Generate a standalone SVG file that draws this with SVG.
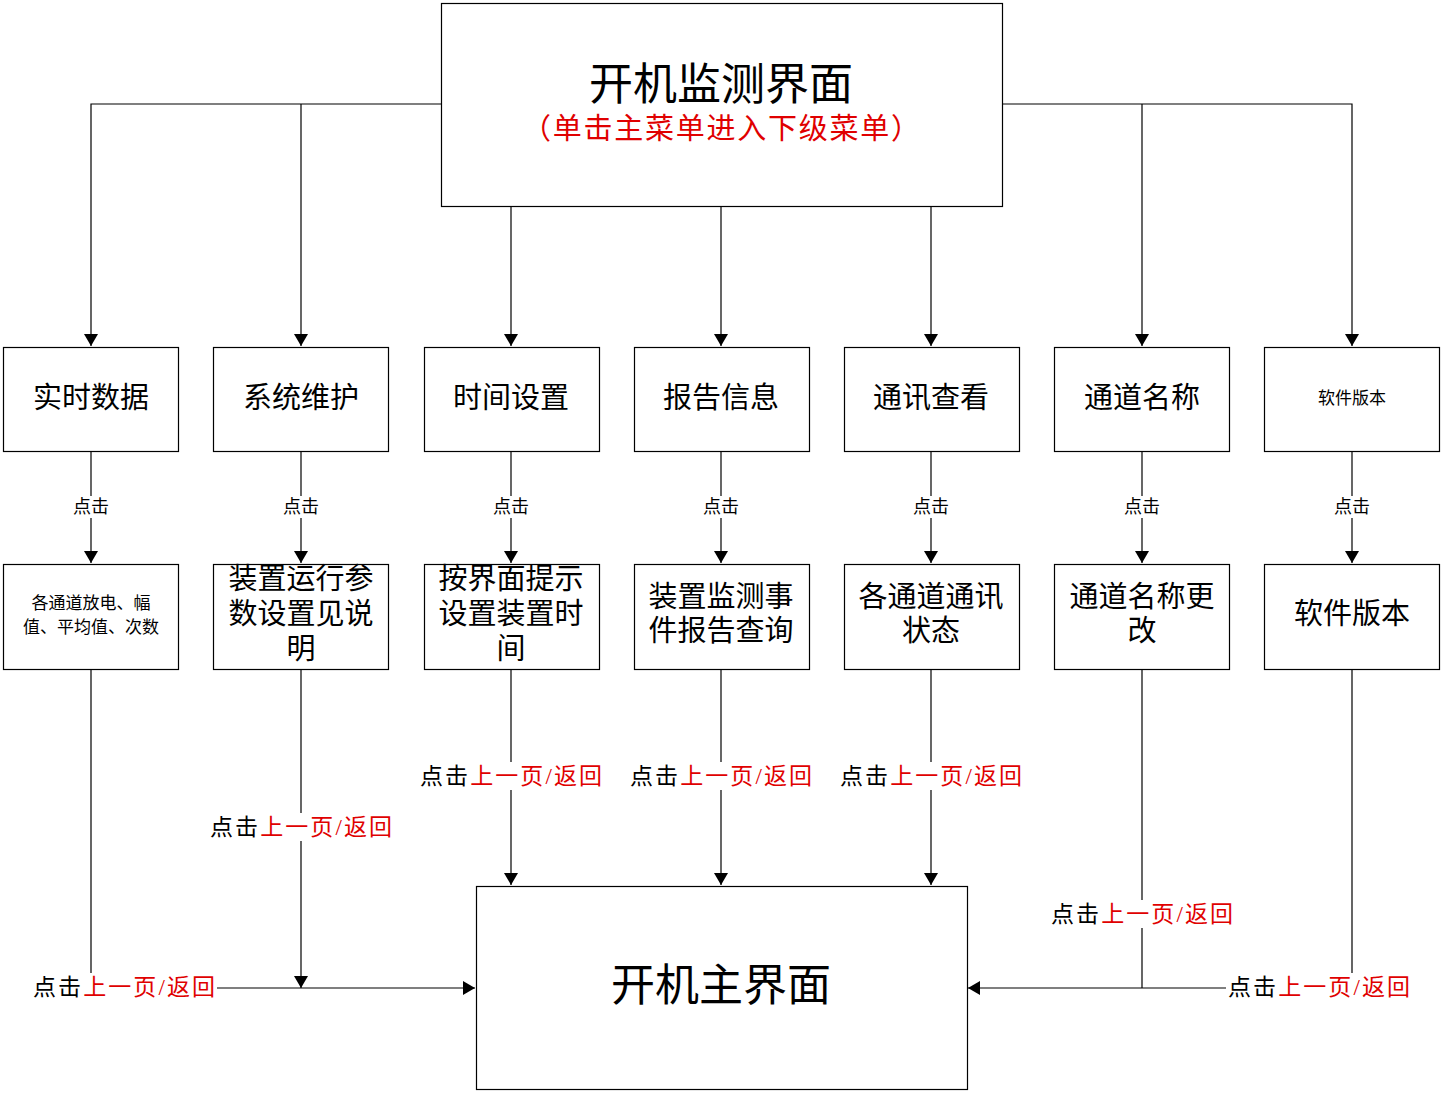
<svg xmlns="http://www.w3.org/2000/svg" width="1445" height="1094" viewBox="0 0 1445 1094">
<defs>
<style>
text{font-family:"Liberation Serif","Noto Sans CJK SC",serif;fill:#000;text-anchor:middle;dominant-baseline:central}
.box{fill:#fff;stroke:#000;stroke-width:1.2}
.ln{fill:none;stroke:#000;stroke-width:1.2}
.r{fill:#e00000}
.t28{font-size:29px}
.lab{font-size:23px}
.small{font-size:18px}
.bg{fill:#fff;stroke:none}
</style>
<marker id="a" markerWidth="12" markerHeight="14" refX="12" refY="7" orient="auto" markerUnits="userSpaceOnUse">
<path d="M0,0 L12,7 L0,14 Z" fill="#000"/>
</marker>
</defs>
<rect width="1445" height="1094" fill="#fff"/>

<g id="connectors">
<path class="ln" d="M441,104 H91 V346" marker-end="url(#a)"/>
<path class="ln" d="M301,104 V346" marker-end="url(#a)"/>
<path class="ln" d="M1002,104 H1352 V346" marker-end="url(#a)"/>
<path class="ln" d="M1142,104 V346" marker-end="url(#a)"/>
<path class="ln" d="M511,206 V346" marker-end="url(#a)"/>
<path class="ln" d="M721,206 V346" marker-end="url(#a)"/>
<path class="ln" d="M931,206 V346" marker-end="url(#a)"/>

<path class="ln" d="M91,451 V563" marker-end="url(#a)"/>
<path class="ln" d="M301,451 V563" marker-end="url(#a)"/>
<path class="ln" d="M511,451 V563" marker-end="url(#a)"/>
<path class="ln" d="M721,451 V563" marker-end="url(#a)"/>
<path class="ln" d="M931,451 V563" marker-end="url(#a)"/>
<path class="ln" d="M1142,451 V563" marker-end="url(#a)"/>
<path class="ln" d="M1352,451 V563" marker-end="url(#a)"/>

<path class="ln" d="M511,669 V885" marker-end="url(#a)"/>
<path class="ln" d="M721,669 V885" marker-end="url(#a)"/>
<path class="ln" d="M931,669 V885" marker-end="url(#a)"/>
<path class="ln" d="M301,669 V988" marker-end="url(#a)"/>
<path class="ln" d="M91,669 V988 H475" marker-end="url(#a)"/>
<path class="ln" d="M1142,669 V988"/>
<path class="ln" d="M1352,669 V988 H968" marker-end="url(#a)"/>

<g class="small">
<rect class="bg" x="70" y="496" width="42" height="22"/><text x="91" y="507">点击</text>
<rect class="bg" x="280" y="496" width="42" height="22"/><text x="301" y="507">点击</text>
<rect class="bg" x="490" y="496" width="42" height="22"/><text x="511" y="507">点击</text>
<rect class="bg" x="700" y="496" width="42" height="22"/><text x="721" y="507">点击</text>
<rect class="bg" x="910" y="496" width="42" height="22"/><text x="931" y="507">点击</text>
<rect class="bg" x="1121" y="496" width="42" height="22"/><text x="1142" y="507">点击</text>
<rect class="bg" x="1331" y="496" width="42" height="22"/><text x="1352" y="507">点击</text>
</g>

<g class="lab">
<rect class="bg" x="418" y="762" width="186" height="28"/>
<text x="511" y="776" textLength="182" lengthAdjust="spacing">点击<tspan class="r">上一页/返回</tspan></text>
<rect class="bg" x="628" y="762" width="186" height="28"/>
<text x="721" y="776" textLength="182" lengthAdjust="spacing">点击<tspan class="r">上一页/返回</tspan></text>
<rect class="bg" x="838" y="762" width="186" height="28"/>
<text x="931" y="776" textLength="182" lengthAdjust="spacing">点击<tspan class="r">上一页/返回</tspan></text>
<rect class="bg" x="208" y="813" width="186" height="28"/>
<text x="301" y="827" textLength="182" lengthAdjust="spacing">点击<tspan class="r">上一页/返回</tspan></text>
<rect class="bg" x="1049" y="900" width="186" height="28"/>
<text x="1142" y="914" textLength="182" lengthAdjust="spacing">点击<tspan class="r">上一页/返回</tspan></text>
<rect class="bg" x="30" y="973" width="187" height="28"/>
<text x="124" y="987" textLength="182" lengthAdjust="spacing">点击<tspan class="r">上一页/返回</tspan></text>
<rect class="bg" x="1226" y="973" width="187" height="28"/>
<text x="1319" y="987" textLength="182" lengthAdjust="spacing">点击<tspan class="r">上一页/返回</tspan></text>
</g>
</g>

<g id="top">
<rect class="box" x="441.5" y="3.5" width="561" height="203"/>
<text x="721" y="85" style="font-size:44px">开机监测界面</text>
<text x="721" y="129" class="r" style="font-size:29px" textLength="398" lengthAdjust="spacing">（单击主菜单进入下级菜单）</text>
</g>

<g id="n1"><rect class="box" x="3.5" y="347.5" width="175" height="104"/><text class="t28" x="91" y="398">实时数据</text></g>
<g id="n2"><rect class="box" x="213.5" y="347.5" width="175" height="104"/><text class="t28" x="301" y="398">系统维护</text></g>
<g id="n3"><rect class="box" x="424.5" y="347.5" width="175" height="104"/><text class="t28" x="511" y="398">时间设置</text></g>
<g id="n4"><rect class="box" x="634.5" y="347.5" width="175" height="104"/><text class="t28" x="721" y="398">报告信息</text></g>
<g id="n5"><rect class="box" x="844.5" y="347.5" width="175" height="104"/><text class="t28" x="931" y="398">通讯查看</text></g>
<g id="n6"><rect class="box" x="1054.5" y="347.5" width="175" height="104"/><text class="t28" x="1142" y="398">通道名称</text></g>
<g id="n7"><rect class="box" x="1264.5" y="347.5" width="175" height="104"/><text x="1352" y="398" style="font-size:17px">软件版本</text></g>

<g id="m1"><rect class="box" x="3.5" y="564.5" width="175" height="105"/><text x="91" y="603" style="font-size:17px">各通道放电、幅</text><text x="91" y="627" style="font-size:17px">值、平均值、次数</text></g>
<g id="m2"><rect class="box" x="213.5" y="564.5" width="175" height="105"/><text class="t28" x="301" y="579">装置运行参</text><text class="t28" x="301" y="614">数设置见说</text><text class="t28" x="301" y="649">明</text></g>
<g id="m3"><rect class="box" x="424.5" y="564.5" width="175" height="105"/><text class="t28" x="511" y="579">按界面提示</text><text class="t28" x="511" y="614">设置装置时</text><text class="t28" x="511" y="649">间</text></g>
<g id="m4"><rect class="box" x="634.5" y="564.5" width="175" height="105"/><text class="t28" x="721" y="597">装置监测事</text><text class="t28" x="721" y="631">件报告查询</text></g>
<g id="m5"><rect class="box" x="844.5" y="564.5" width="175" height="105"/><text class="t28" x="931" y="597">各通道通讯</text><text class="t28" x="931" y="631">状态</text></g>
<g id="m6"><rect class="box" x="1054.5" y="564.5" width="175" height="105"/><text class="t28" x="1142" y="597">通道名称更</text><text class="t28" x="1142" y="631">改</text></g>
<g id="m7"><rect class="box" x="1264.5" y="564.5" width="175" height="105"/><text class="t28" x="1352" y="614">软件版本</text></g>

<g id="bottom">
<rect class="box" x="476.5" y="886.5" width="491" height="203"/>
<text x="721" y="986" style="font-size:44px">开机主界面</text>
</g>
</svg>
